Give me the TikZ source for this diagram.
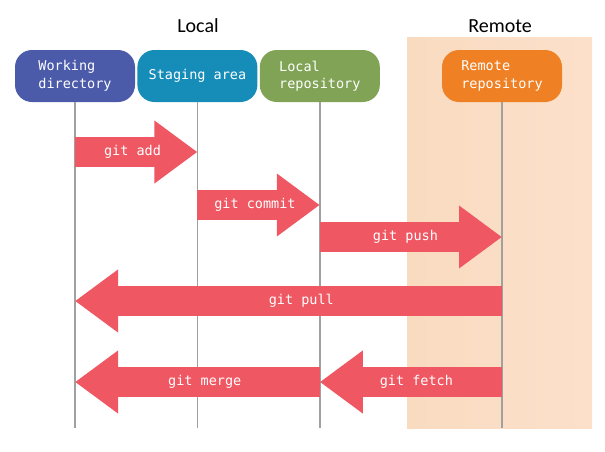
\documentclass[tikz,border=0pt]{standalone}
\usepackage{fontspec}
\setmainfont{Carlito}
\setmonofont{DejaVu Sans Mono}
\usetikzlibrary{positioning,arrows.meta}
\definecolor{wdblue}{HTML}{4B5BAA}
\definecolor{stblue}{HTML}{168CB8}
\definecolor{lrgreen}{HTML}{80A356}
\definecolor{rrorange}{HTML}{F08024}
\definecolor{bgleft}{HTML}{F9DBC0}
\definecolor{bgright}{HTML}{FCE0CA}
\definecolor{gitred}{HTML}{EF5762}
\definecolor{lifegray}{HTML}{A0A0A0}

\begin{document}
\begin{tikzpicture}[x=1pt,y=-1pt,
    box/.style = {rounded corners=17pt, minimum width=120pt, minimum height=52pt,
        inner sep=0pt, text=white, align=left,
        font=\ttfamily\fontsize{13.5}{17.5}\selectfont},
    title/.style = {font=\fontsize{20}{24}\selectfont},
    life/.style = {draw=lifegray, line width=1.5pt},
    fat/.style = {draw=gitred, line width=30pt, -{Triangle[length=43pt,width=60pt]}},
    cmd/.style = {text=white, font=\ttfamily\fontsize{13.5}{16}\selectfont}]
\useasboundingbox (0,0) rectangle (605,451);
% remote side
\shade[left color=bgleft, right color=bgright] (407,37) rectangle (592,428);
\node[title] (local) at (198,26) {Local};
\node[title] (remote) at (500,26) {Remote};
% areas
\node[box, fill=wdblue] (wd) at (75,76) {Working\\directory};
\node[box, fill=stblue, right=2pt of wd] (st) {Staging area};
\node[box, fill=lrgreen, right=2pt of st] (lr) {Local\\repository};
\node[box, fill=rrorange] (rr) at (502,76) {Remote\\repository};
% lifelines
\foreach \n in {wd,st,lr,rr}
    \draw[life] (\n.south) -- (\n.south |- 0,428) coordinate (\n end);
% commands
\foreach \from/\to/\y/\txt in {wd/st/152/git add, st/lr/205/git commit,
        lr/rr/237/git push, rr/wd/301/git pull,
        lr/wd/382/git merge, rr/lr/382/git fetch}
    \draw[fat] (\from.south |- 0,\y) -- (\to.south |- 0,\y)
        node[cmd, pos=0.47] {\txt};
\end{tikzpicture}
\end{document}
